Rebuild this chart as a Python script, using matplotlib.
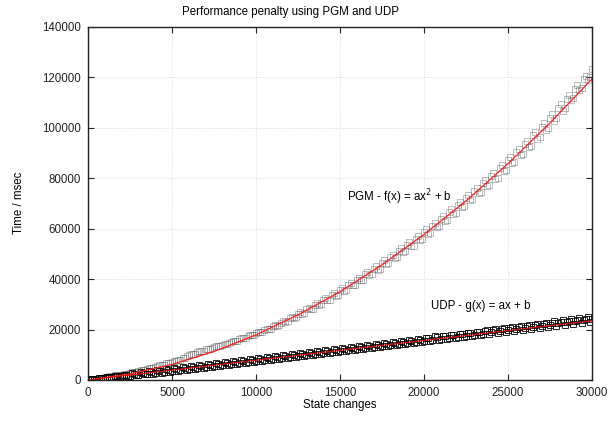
import matplotlib
matplotlib.use("Agg")
import matplotlib.pyplot as plt
import numpy as np

plt.rcParams["font.family"] = ["Liberation Sans", "DejaVu Sans"]

# sampled state changes: every 250, plus the readings in between
state_changes = np.arange(0, 30001, 250)
state_changes_mid = np.arange(125, 30000, 250)

pgm_times = [
    150, 520, 560, 980, 1050, 1480, 1560, 1990, 2150, 2560,
    2750, 3200, 3420, 3950, 4200, 4800, 5100, 5800, 6100, 6800,
    7100, 7700, 8100, 8900, 9900, 10300, 11000, 11400, 12100, 12400,
    13100, 13400, 14000, 14400, 15100, 15500, 16200, 16600, 17400, 17800,
    18600, 19000, 19900, 20300, 21300, 21600, 22800, 23000, 24500, 24600,
    26200, 26300, 28000, 28000, 29800, 29800, 31700, 31600, 33600, 33500,
    35600, 35400, 37700, 37500, 39800, 39500, 41900, 41600, 44100, 43800,
    46400, 46000, 48700, 48300, 51100, 50600, 53500, 53000, 56000, 55500,
    58600, 58000, 61200, 60500, 63900, 63100, 66600, 65800, 69300, 68500,
    72200, 71300, 75100, 74100, 78000, 77000, 81000, 79900, 84100, 82900,
    87200, 86000, 90400, 89200, 93600, 92400, 97000, 95700, 100400, 99300,
    104000, 102900, 107800, 106800, 111600, 110900, 115400, 114900, 119300, 118900,
    123200,
]
pgm_times_mid = [
    340, 380, 830, 840, 1320, 1360, 1860, 1930, 2460, 2560,
    3120, 3240, 3830, 4030, 4640, 4920, 5610, 5920, 6640, 6870,
    7620, 7830, 8650, 9340, 10240, 10450, 11380, 11520, 12380, 12550,
    13430, 13530, 14440, 14570, 15510, 15660, 16620, 16800, 17800, 18000,
    19020, 19160, 20410, 20270, 21840, 21730, 23440, 23250, 25080, 24830,
    26890, 26560, 28640, 28240, 30550, 30080, 32420, 31880, 34440, 33820,
    36420, 35730, 38550, 37790, 40640, 39800, 42880, 41970, 45070, 44090,
    47420, 46370, 49730, 48600, 52190, 50990, 54600, 53330, 57180, 55830,
    59700, 58280, 62380, 60890, 65010, 63450, 67800, 66170, 70550, 68840,
    73450, 71670, 76300, 74450, 79310, 77380, 82270, 80270, 85390, 83320,
    88460, 86420, 91690, 89680, 94980, 92990, 98410, 96450, 101910, 100080,
    105560, 103850, 109260, 107680, 113020, 111670, 116830, 115710, 120700, 120000,
]
udp_times = [
    150, 450, 250, 850, 620, 1250, 1000, 1650, 1400, 2050,
    1780, 2450, 2150, 2850, 2520, 3250, 2900, 3650, 3280, 4050,
    3650, 4450, 4020, 4850, 4400, 5250, 4780, 5650, 5150, 6050,
    5550, 6450, 5950, 6850, 6350, 7250, 6750, 7650, 7150, 8050,
    7550, 8450, 7950, 8850, 8350, 9250, 8750, 9650, 9150, 10050,
    9550, 10450, 9950, 10850, 10350, 11250, 10750, 11650, 11150, 12050,
    11550, 12450, 11950, 12850, 12350, 13250, 12750, 13650, 13150, 14050,
    13550, 14450, 13950, 14850, 14350, 15250, 14750, 15650, 15150, 16050,
    15550, 16500, 15950, 16950, 16350, 17400, 16750, 17850, 17150, 18300,
    17550, 18750, 17950, 19200, 18400, 19650, 18850, 20100, 19300, 20550,
    19750, 21000, 20200, 21450, 20650, 21900, 21100, 22350, 21550, 22800,
    22000, 23250, 22450, 23700, 22900, 24150, 23350, 24600, 23800, 25050,
    24300,
]
udp_times_mid = [
    400, 140, 790, 490, 1280, 830, 1720, 1170, 2160, 1510,
    2660, 1850, 3100, 2190, 3540, 2530, 3980, 2930, 4420, 3270,
    4810, 3660, 5250, 4000, 5650, 4390, 6090, 4780, 6480, 5180,
    6870, 5570, 7260, 5960, 7650, 6350, 8050, 6740, 8440, 7130,
    8830, 7520, 9220, 7910, 9610, 8310, 10000, 8700, 10390, 9090,
    10790, 9480, 11180, 9870, 11570, 10260, 11960, 10660, 12350, 11050,
    12740, 11440, 13130, 11830, 13530, 12220, 13920, 12610, 14310, 13000,
    14700, 13400, 15090, 13790, 15480, 14180, 15880, 14570, 16270, 14960,
    16660, 15550, 17250, 15950, 17640, 16340, 18030, 16730, 18420, 17120,
    18820, 17510, 19210, 17900, 19600, 18290, 19990, 18690, 20380, 19080,
    20770, 19470, 21160, 19860, 21560, 20250, 21950, 20640, 22340, 21040,
    22730, 21430, 23120, 21820, 23510, 22210, 23910, 22600, 24300, 22990,
]

# fitted curves
fit_pgm_x = [0, 2500, 5000, 7500, 10000, 12500, 15000, 17500, 20000, 22500, 25000, 27500, 30000]
fit_pgm_y = [0, 2400, 6200, 11300, 17900, 25800, 35000, 45700, 57700, 71000, 85800, 101900, 119400]
fit_udp_x = [0, 15000, 30000]
fit_udp_y = [0, 11750, 23500]

fig = plt.figure(figsize=(6.10, 4.21), dpi=100)
ax = fig.add_axes([0.1443, 0.0974, 0.9705 - 0.1443, 0.9359 - 0.0974])

pgm_style = dict(linestyle="none", marker="s", markersize=4.5, markerfacecolor="none",
                 markeredgecolor="#555555", markeredgewidth=0.55, alpha=0.5)
udp_style = dict(linestyle="none", marker="s", markersize=4.5, markerfacecolor="none",
                 markeredgecolor="#000000", markeredgewidth=0.7, alpha=0.85)
ax.plot(state_changes, pgm_times, **pgm_style)
ax.plot(state_changes_mid, pgm_times_mid, **pgm_style)
ax.plot(state_changes, udp_times, **udp_style)
ax.plot(state_changes_mid, udp_times_mid, **udp_style)
ax.plot(fit_pgm_x, fit_pgm_y, color="#ff2020", linewidth=0.9)
ax.plot(fit_udp_x, fit_udp_y, color="#cc1010", linewidth=0.9)

ax.set_xlim(0, 30000)
ax.set_ylim(0, 140000)
ax.set_xticks(range(0, 30001, 5000))
ax.set_yticks(range(0, 140001, 20000))
ax.tick_params(direction="in", top=True, right=True, length=4, width=0.8,
               labelsize=8.3, pad=5, colors="#222222")
ax.grid(True, color="#cccccc", linestyle=(0, (1, 2)), linewidth=0.6)
for s in ax.spines.values():
    s.set_linewidth(1.0)
    s.set_color("#222222")

ax.text(15420, 72600, "PGM - f(x) = ax$^2$ + b", fontsize=8.3, ha="left", va="center")
ax.text(20400, 29400, "UDP - g(x) = ax + b", fontsize=8.3, ha="left", va="center")

fig.text(291 / 610, 1 - 12 / 421, "Performance penalty using PGM and UDP",
         fontsize=8.3, ha="center", va="center")
fig.text(340 / 610, 1 - 405 / 421, "State changes", fontsize=8.3, ha="center", va="center")
fig.text(19 / 610, 1 - 203 / 421, "Time / msec", fontsize=8.3, ha="center", va="center",
         rotation=90)

fig.savefig("out.png", dpi=100)
